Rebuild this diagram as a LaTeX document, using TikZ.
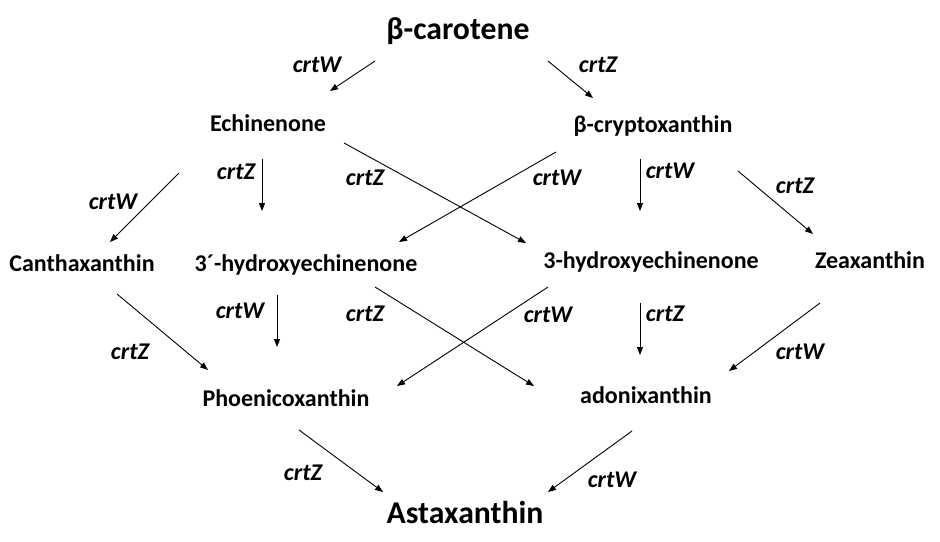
\documentclass[tikz,border=0pt]{standalone}
\usepackage{fontspec}
\setmainfont{Carlito}
\usetikzlibrary{arrows.meta}
\tikzset{
  mol/.style={inner sep=0pt, anchor=base, font=\bfseries\fontsize{24}{26}\selectfont},
  big/.style={inner sep=0pt, anchor=base, font=\bfseries\fontsize{31.7}{34}\selectfont},
  enz/.style={inner sep=0pt, anchor=center, font=\bfseries\itshape\fontsize{24}{26}\selectfont},
  rx/.style={line width=0.9pt, -{Triangle[length=8pt,width=6pt]}}
}
\begin{document}
\begin{tikzpicture}[x=1pt,y=-1pt]
\useasboundingbox (0,0) rectangle (940,541);
% molecules
\node[big] (bc) at (458,39) {β-carotene};
\node[mol] (ech) at (268,131) {Echinenone};
\node[mol] (bcx) at (653,132) {β-cryptoxanthin};
\node[mol] (can) at (82,271) {Canthaxanthin};
\node[mol] (h3p) at (306,271) {3´-hydroxyechinenone};
\node[mol] (h3) at (651,268) {3-hydroxyechinenone};
\node[mol] (zea) at (870,268) {Zeaxanthin};
\node[mol] (pho) at (286,406) {Phoenicoxanthin};
\node[mol] (ado) at (646,403) {adonixanthin};
\node[big] (ast) at (465,523) {Astaxanthin};
% arrow end points
\coordinate (a1s) at (375,61);  \coordinate (a1e) at (330,91);
\coordinate (a2s) at (548,61);  \coordinate (a2e) at (593,98);
\coordinate (a3s) at (344,143); \coordinate (a3e) at (526,243);
\coordinate (a4s) at (556,152); \coordinate (a4e) at (399,242);
\coordinate (a5s) at (262,159); \coordinate (a5e) at (262,211);
\coordinate (a6s) at (179,173); \coordinate (a6e) at (110,242);
\coordinate (a7s) at (640,159); \coordinate (a7e) at (640,211);
\coordinate (a8s) at (738,171); \coordinate (a8e) at (813,234);
\coordinate (a9s) at (117,294); \coordinate (a9e) at (208,370);
\coordinate (a10s) at (277,295); \coordinate (a10e) at (277,347);
\coordinate (a11s) at (375,287); \coordinate (a11e) at (534,386);
\coordinate (a12s) at (548,287); \coordinate (a12e) at (397,386);
\coordinate (a13s) at (640,303); \coordinate (a13e) at (640,355);
\coordinate (a14s) at (820,303); \coordinate (a14e) at (729,371);
\coordinate (a15s) at (299,430); \coordinate (a15e) at (383,492);
\coordinate (a16s) at (632,431); \coordinate (a16e) at (548,492);
\foreach \i in {1,...,16} \draw[rx] (a\i s) -- (a\i e);
% enzyme labels
\node[enz] (l1) at (317,65) {crtW};
\node[enz] (l2) at (598,65) {crtZ};
\node[enz] (l3) at (236,172) {crtZ};
\node[enz] (l4) at (365,178) {crtZ};
\node[enz] (l5) at (113,202) {crtW};
\node[enz] (l6) at (557,178) {crtW};
\node[enz] (l7) at (670,171) {crtW};
\node[enz] (l8) at (795,186) {crtZ};
\node[enz] (l9) at (240,311) {crtW};
\node[enz] (l10) at (130,352) {crtZ};
\node[enz] (l11) at (365,314) {crtZ};
\node[enz] (l12) at (548,315) {crtW};
\node[enz] (l13) at (665,314) {crtZ};
\node[enz] (l14) at (800,352) {crtW};
\node[enz] (l15) at (303,473) {crtZ};
\node[enz] (l16) at (612,480) {crtW};
\end{tikzpicture}
\end{document}
